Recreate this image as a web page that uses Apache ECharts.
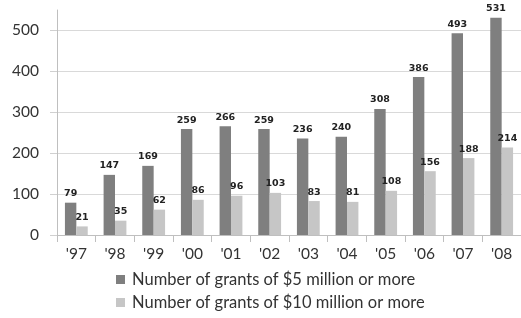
<!DOCTYPE html>
<html>
<head>
<meta charset="utf-8">
<script src="https://cdn.jsdelivr.net/npm/echarts@6/dist/echarts.min.js"></script>
<style>
  html,body{margin:0;padding:0;background:#fff;}
  #chartmain{width:521px;height:318px;}
</style>
</head>
<body>
<div id="chartmain"></div>
<script>
// 年份
var years = ["'97", "'98", "'99", "'00", "'01", "'02", "'03", "'04", "'05", "'06", "'07", "'08"];
var grants5m = [79, 147, 169, 259, 266, 259, 236, 240, 308, 386, 493, 531];
var grants10m = [21, 35, 62, 86, 96, 103, 83, 81, 108, 156, 188, 214];
var seriesNames = ['Number of grants of $5 million or more', 'Number of grants of $10 million or more'];

var myChart = echarts.init(document.getElementById('chartmain'));

var labelStyle = {
    show: true,
    position: 'top',
    distance: 4,
    fontFamily: 'DejaVu Sans',
    fontWeight: 'bold',
    fontSize: 9.5,
    color: '#222'
};

var option = {
    animation: false,
    textStyle: { fontFamily: 'Lato' },
    grid: { left: 57, right: -6, top: 10, bottom: 83 },
    legend: {
        orient: 'vertical',
        left: 116,
        top: 271,
        height: 60,
        padding: 0,
        itemGap: 6,
        itemWidth: 9,
        itemHeight: 9,
        icon: 'rect',
        textStyle: { fontFamily: 'Lato', fontSize: 16.5, lineHeight: 17, color: '#333', padding: [0, 0, 0, 2] },
        data: seriesNames
    },
    xAxis: [
        {
            type: 'category',
            data: years,
            axisLine: { lineStyle: { color: '#bfbfbf' } },
            axisTick: { show: true, length: 7, lineStyle: { color: '#bfbfbf' } },
            axisLabel: { fontFamily: 'Lato', fontSize: 15.5, color: '#333', margin: 11 }
        }
    ],
    yAxis: [
        {
            type: 'value',
            min: 0,
            max: 550,
            interval: 100,
            axisLine: { show: true, lineStyle: { color: '#bfbfbf' } },
            axisTick: { show: true, length: 7, lineStyle: { color: '#d0d0d0' } },
            axisLabel: { fontFamily: 'Lato', fontSize: 15.5, color: '#333', margin: 18, showMaxLabel: false },
            splitLine: {
                lineStyle: {
                    color: ['#d9d9d9', '#d9d9d9', '#d9d9d9', '#d9d9d9', '#d9d9d9', '#d9d9d9', 'rgba(0,0,0,0)']
                }
            }
        }
    ],
    series: [
        {
            name: seriesNames[0],
            type: 'bar',
            data: grants5m,
            barGap: '0%',
            barCategoryGap: '41%',
            itemStyle: { color: '#7f7f7f' },
            label: labelStyle
        },
        {
            name: seriesNames[1],
            type: 'bar',
            data: grants10m,
            itemStyle: { color: '#c6c6c6' },
            label: labelStyle
        }
    ]
};
myChart.setOption(option);
</script>
</body>
</html>
